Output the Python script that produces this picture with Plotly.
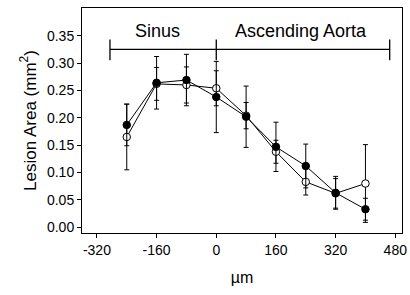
import plotly.graph_objects as go

# Data
distance = [-240, -160, -80, 0, 80, 160, 240, 320, 400]
filled_vals = [0.187, 0.264, 0.269, 0.238, 0.202, 0.147, 0.112, 0.063, 0.033]
filled_err = [0.038, 0.048, 0.047, 0.065, 0.056, 0.045, 0.040, 0.030, 0.020]
open_vals = [0.165, 0.262, 0.260, 0.254, 0.204, 0.138, 0.083, 0.062, 0.080]
open_err = [0.060, 0.030, 0.033, 0.032, 0.024, 0.021, 0.024, 0.027, 0.071]

x_ticks = [-320, -160, 0, 160, 320, 480]
y_ticks = [0.00, 0.05, 0.10, 0.15, 0.20, 0.25, 0.30, 0.35]

# Region bracket
bracket_x = [-285, 0, 465]
bracket_y = 0.325
bracket_tick = [0.305, 0.343]
region_labels = ["Sinus", "Ascending Aorta"]
region_label_x = [-157, 228]
region_label_y = 0.358

FONT = "Arial, Liberation Sans, sans-serif"

fig = go.Figure()

# Bracket lines
fig.add_trace(go.Scatter(
    x=[bracket_x[0], bracket_x[-1]], y=[bracket_y, bracket_y],
    mode="lines", line=dict(color="black", width=1.3),
    showlegend=False, hoverinfo="skip"))
for bx in bracket_x:
    fig.add_trace(go.Scatter(
        x=[bx, bx], y=bracket_tick, mode="lines",
        line=dict(color="black", width=1.3),
        showlegend=False, hoverinfo="skip"))

# Open circles series
fig.add_trace(go.Scatter(
    x=distance, y=open_vals, mode="lines+markers",
    line=dict(color="black", width=1),
    marker=dict(symbol="circle", size=7.5, color="white",
                line=dict(color="black", width=1)),
    error_y=dict(type="data", array=open_err, visible=True,
                 color="black", thickness=1, width=2.5),
    showlegend=False))

# Filled circles series
fig.add_trace(go.Scatter(
    x=distance, y=filled_vals, mode="lines+markers",
    line=dict(color="black", width=1),
    marker=dict(symbol="circle", size=7.5, color="black",
                line=dict(color="black", width=1)),
    error_y=dict(type="data", array=filled_err, visible=True,
                 color="black", thickness=1, width=2.5),
    showlegend=False))

for lbl, lx in zip(region_labels, region_label_x):
    fig.add_annotation(x=lx, y=region_label_y, text=lbl, showarrow=False,
                       font=dict(family=FONT, size=18, color="black"),
                       xanchor="center", yanchor="middle")

fig.update_layout(
    width=410, height=295,
    margin=dict(l=82, r=8, t=8, b=62),
    paper_bgcolor="white", plot_bgcolor="white",
    font=dict(family=FONT, size=14, color="black"),
    xaxis=dict(
        range=[-360, 498], tickmode="array", tickvals=x_ticks,
        ticktext=[str(v) for v in x_ticks],
        ticks="outside", ticklen=4, tickwidth=1, tickcolor="black",
        showline=True, linecolor="black", linewidth=1, mirror=True,
        showgrid=False, zeroline=False, automargin=False,
        title=dict(text="µm", font=dict(family=FONT, size=16)),
        tickfont=dict(family=FONT, size=14),
    ),
    yaxis=dict(
        range=[-0.0104, 0.4006], tickmode="array", tickvals=y_ticks,
        ticktext=[f"{v:.2f}" for v in y_ticks],
        ticks="outside", ticklen=4, tickwidth=1, tickcolor="black",
        showline=True, linecolor="black", linewidth=1, mirror=True,
        showgrid=False, zeroline=False, automargin=True,
        title=dict(text="Lesion Area (mm<sup>2</sup>)", font=dict(family=FONT, size=17), standoff=6),
        tickfont=dict(family=FONT, size=14),
    ),
)

fig.write_html(
    "out.html",
    config={"displayModeBar": False},
    post_script="document.body.style.margin='0';document.body.style.overflow='hidden';",
)
